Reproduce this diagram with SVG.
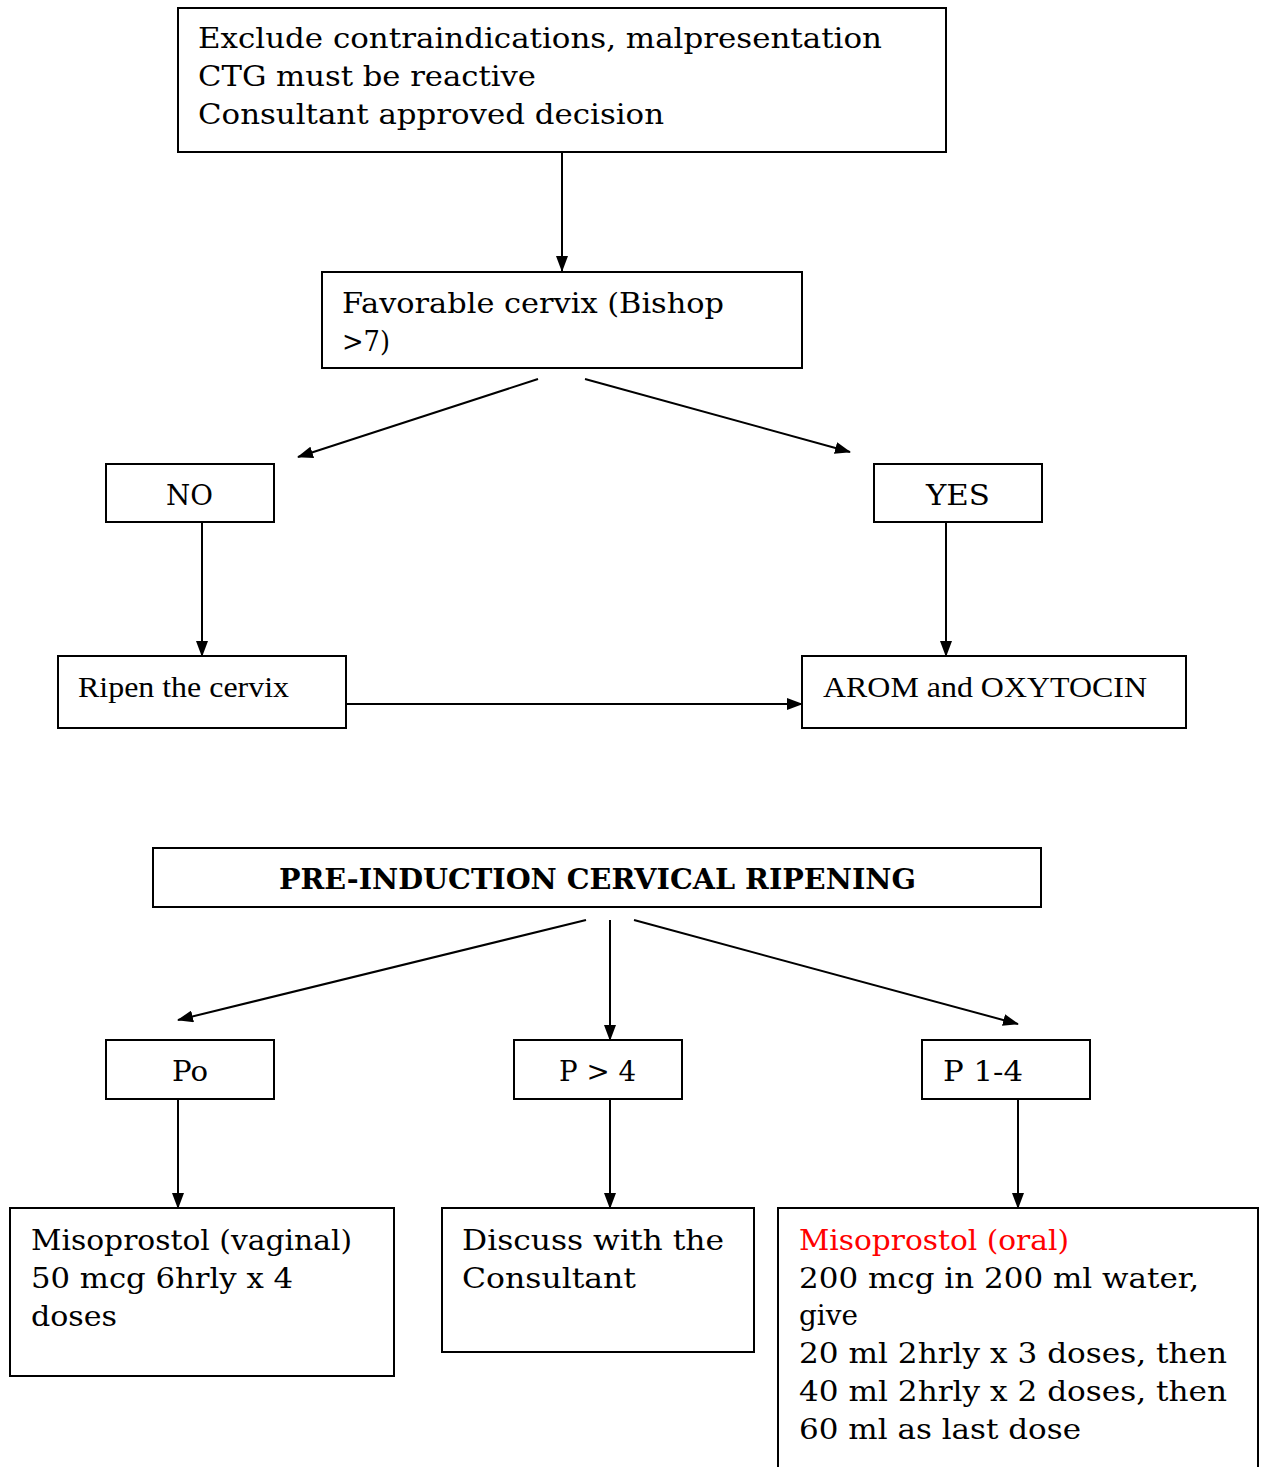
<svg xmlns="http://www.w3.org/2000/svg" width="1264" height="1467" viewBox="0 0 1264 1467">
  <style>
    .box { fill: #fff; stroke: #000; stroke-width: 2; }
    .t { font-family: "DejaVu Serif", "Liberation Serif", serif; font-size: 28px; fill: #000; }
    .tr { font-family: "Liberation Serif", "Times New Roman", serif; font-size: 29px; fill: #000; }
    .tb { font-family: "DejaVu Serif", "Liberation Serif", serif; font-size: 28px; font-weight: bold; fill: #000; }
    .red { fill: #ff0000; }
    .edge { stroke: #000; stroke-width: 2; fill: none; marker-end: url(#arrow); }
  </style>
  <defs>
    <marker id="arrow" markerUnits="userSpaceOnUse" markerWidth="16" markerHeight="12" viewBox="0 0 16 12" refX="15" refY="6" orient="auto">
      <path d="M0,0 L16,6 L0,12 z" fill="#000"/>
    </marker>
  </defs>

  <rect width="1264" height="1467" fill="#fff"/>

  <g id="connectors">
    <line class="edge" x1="562" y1="152" x2="562" y2="271"/>
    <line class="edge" x1="538" y1="379" x2="298" y2="457"/>
    <line class="edge" x1="585" y1="379" x2="850" y2="452"/>
    <line class="edge" x1="202" y1="522" x2="202" y2="656"/>
    <line class="edge" x1="946" y1="522" x2="946" y2="656"/>
    <line class="edge" x1="346" y1="704" x2="802" y2="704"/>
    <line class="edge" x1="586" y1="920" x2="178" y2="1020"/>
    <line class="edge" x1="610" y1="920" x2="610" y2="1040"/>
    <line class="edge" x1="634" y1="920" x2="1018" y2="1024"/>
    <line class="edge" x1="178" y1="1099" x2="178" y2="1208"/>
    <line class="edge" x1="610" y1="1099" x2="610" y2="1208"/>
    <line class="edge" x1="1018" y1="1099" x2="1018" y2="1208"/>
  </g>

  <g id="exclude">
    <rect class="box" x="178" y="8" width="768" height="144"/>
    <text class="t" x="198" y="48" textLength="684" lengthAdjust="spacingAndGlyphs">Exclude contraindications, malpresentation</text>
    <text class="t" x="198" y="86" textLength="338" lengthAdjust="spacingAndGlyphs">CTG must be reactive</text>
    <text class="t" x="198" y="124" textLength="466" lengthAdjust="spacingAndGlyphs">Consultant approved decision</text>
  </g>

  <g id="favorable">
    <rect class="box" x="322" y="272" width="480" height="96"/>
    <text class="t" x="342" y="313" textLength="382" lengthAdjust="spacingAndGlyphs">Favorable cervix (Bishop</text>
    <text class="t" x="342" y="351" textLength="48" lengthAdjust="spacingAndGlyphs">&gt;7)</text>
  </g>

  <g id="no">
    <rect class="box" x="106" y="464" width="168" height="58"/>
    <text class="t" x="166" y="505" textLength="47" lengthAdjust="spacingAndGlyphs">NO</text>
  </g>

  <g id="yes">
    <rect class="box" x="874" y="464" width="168" height="58"/>
    <text class="t" x="926" y="505" textLength="64" lengthAdjust="spacingAndGlyphs">YES</text>
  </g>

  <g id="ripen">
    <rect class="box" x="58" y="656" width="288" height="72"/>
    <text class="tr" x="78" y="697" textLength="211" lengthAdjust="spacingAndGlyphs">Ripen the cervix</text>
  </g>

  <g id="arom">
    <rect class="box" x="802" y="656" width="384" height="72"/>
    <text class="tr" x="823" y="697" textLength="324" lengthAdjust="spacingAndGlyphs">AROM and OXYTOCIN</text>
  </g>

  <g id="preinduction">
    <rect class="box" x="153" y="848" width="888" height="59"/>
    <text class="tb" x="279" y="889" textLength="637" lengthAdjust="spacingAndGlyphs">PRE-INDUCTION CERVICAL RIPENING</text>
  </g>

  <g id="po">
    <rect class="box" x="106" y="1040" width="168" height="59"/>
    <text class="t" x="172" y="1081" textLength="36" lengthAdjust="spacingAndGlyphs">Po</text>
  </g>

  <g id="p-over-4">
    <rect class="box" x="514" y="1040" width="168" height="59"/>
    <text class="t" x="559" y="1081" textLength="77" lengthAdjust="spacingAndGlyphs">P &gt; 4</text>
  </g>

  <g id="p-1-4">
    <rect class="box" x="922" y="1040" width="168" height="59"/>
    <text class="t" x="943" y="1081" textLength="80" lengthAdjust="spacingAndGlyphs">P 1-4</text>
  </g>

  <g id="miso-vaginal">
    <rect class="box" x="10" y="1208" width="384" height="168"/>
    <text class="t" x="31" y="1250" textLength="321" lengthAdjust="spacingAndGlyphs">Misoprostol (vaginal)</text>
    <text class="t" x="31" y="1288" textLength="262" lengthAdjust="spacingAndGlyphs">50 mcg 6hrly x 4</text>
    <text class="t" x="31" y="1326" textLength="86" lengthAdjust="spacingAndGlyphs">doses</text>
  </g>

  <g id="discuss">
    <rect class="box" x="442" y="1208" width="312" height="144"/>
    <text class="t" x="462" y="1250" textLength="262" lengthAdjust="spacingAndGlyphs">Discuss with the</text>
    <text class="t" x="462" y="1288" textLength="174" lengthAdjust="spacingAndGlyphs">Consultant</text>
  </g>

  <g id="miso-oral">
    <rect class="box" x="778" y="1208" width="480" height="270"/>
    <text class="t red" x="799" y="1250" textLength="270" lengthAdjust="spacingAndGlyphs">Misoprostol (oral)</text>
    <text class="t" x="799" y="1288" textLength="400" lengthAdjust="spacingAndGlyphs">200 mcg in 200 ml water,</text>
    <text class="t" x="799" y="1325" textLength="59" lengthAdjust="spacingAndGlyphs">give</text>
    <text class="t" x="799" y="1363" textLength="428" lengthAdjust="spacingAndGlyphs">20 ml 2hrly x 3 doses, then</text>
    <text class="t" x="799" y="1401" textLength="428" lengthAdjust="spacingAndGlyphs">40 ml 2hrly x 2 doses, then</text>
    <text class="t" x="799" y="1439" textLength="282" lengthAdjust="spacingAndGlyphs">60 ml as last dose</text>
  </g>
</svg>
